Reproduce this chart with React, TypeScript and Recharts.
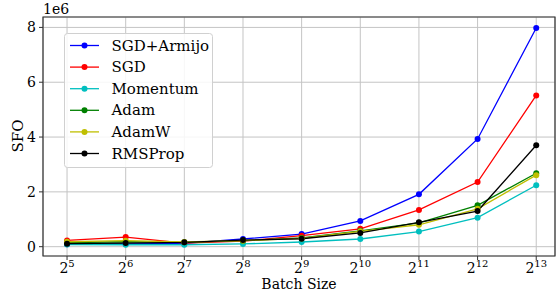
import React from 'react';
import { LineChart, Line, XAxis, YAxis, CartesianGrid, ReferenceArea } from 'recharts';

const batchExponents = [5, 6, 7, 8, 9, 10, 11, 12, 13];
const sgdArmijo = [0.09, 0.10, 0.12, 0.28, 0.46, 0.94, 1.91, 3.93, 7.98];
const sgd = [0.23, 0.35, 0.13, 0.20, 0.40, 0.65, 1.34, 2.36, 5.52];
const momentum = [0.08, 0.07, 0.07, 0.10, 0.17, 0.28, 0.55, 1.06, 2.24];
const adam = [0.15, 0.18, 0.16, 0.22, 0.32, 0.58, 0.87, 1.51, 2.68];
const adamw = [0.18, 0.22, 0.17, 0.22, 0.30, 0.56, 0.80, 1.38, 2.61];
const rmsprop = [0.11, 0.13, 0.16, 0.24, 0.29, 0.50, 0.89, 1.30, 3.70];
const yTicks = [0, 2, 4, 6, 8];

const series = [
  { key: 'SGD+Armijo', values: sgdArmijo, color: '#0000ff' },
  { key: 'SGD', values: sgd, color: '#ff0000' },
  { key: 'Momentum', values: momentum, color: '#00bfbf' },
  { key: 'Adam', values: adam, color: '#008000' },
  { key: 'AdamW', values: adamw, color: '#bfbf00' },
  { key: 'RMSProp', values: rmsprop, color: '#000000' },
];

const data = batchExponents.map((e, i) => {
  const row: Record<string, number> = { exp: e };
  series.forEach((s) => {
    row[s.key] = s.values[i];
  });
  return row;
});

const FONT = "'DejaVu Serif', serif";
const X_DOMAIN: [number, number] = [4.59, 13.32];
const Y_DOMAIN: [number, number] = [-0.34, 8.38];

const XTick = (props: any) => {
  const { x, y, payload } = props;
  return (
    <text x={x} y={y} textAnchor="middle" fontFamily={FONT} fontSize={14} fill="#000">
      <tspan dy={10}>2</tspan>
      <tspan dy={-6} fontSize={10}>{payload.value}</tspan>
    </text>
  );
};

const YTick = (props: any) => {
  const { x, y, payload } = props;
  return (
    <text x={x} y={y} dy={5} textAnchor="end" fontFamily={FONT} fontSize={14} fill="#000">
      {payload.value}
    </text>
  );
};

const LegendBox = () => (
  <svg width={150} height={136} style={{ display: 'block' }}>
    <rect x={0.5} y={0.5} width={148} height={134} rx={3} ry={3} fill="rgba(255,255,255,0.85)" stroke="#d0d0d0" />
    {series.map((s, i) => {
      const cy = 12.5 + i * 21.6;
      return (
        <g key={s.key}>
          <line x1={6} x2={35} y1={cy} y2={cy} stroke={s.color} strokeWidth={1.3} />
          <circle cx={20.5} cy={cy} r={3} fill={s.color} />
          <text x={47.5} y={cy} dy={5} fontFamily={FONT} fontSize={15} fill="#000">
            {s.key}
          </text>
        </g>
      );
    })}
  </svg>
);

export default function App() {
  return (
    <div style={{ position: 'absolute', left: 0, top: 0, width: 556, height: 292, background: '#fff' }}>
      <LineChart width={556} height={292} data={data} margin={{ top: 17, right: 1, left: 0, bottom: 0 }}>
        <CartesianGrid stroke="#c4c4c4" strokeWidth={1} />
        <XAxis
          dataKey="exp"
          type="number"
          domain={X_DOMAIN}
          ticks={batchExponents}
          allowDataOverflow
          height={36}
          tick={<XTick />}
          tickSize={4}
          tickMargin={3}
          stroke="#333"
          tickLine={{ stroke: '#333' }}
          axisLine={false}
          label={{
            content: () => (
              <text x={299} y={289} textAnchor="middle" fontFamily={FONT} fontSize={14} fill="#000">
                Batch Size
              </text>
            ),
          }}
        />
        <YAxis
          type="number"
          domain={Y_DOMAIN}
          ticks={yTicks}
          allowDataOverflow
          width={43}
          tick={<YTick />}
          tickSize={4}
          tickMargin={3}
          stroke="#333"
          tickLine={{ stroke: '#333' }}
          axisLine={false}
          label={{
            content: () => (
              <g>
                <text x={23} y={136} transform="rotate(-90 23 136)" textAnchor="middle" fontFamily={FONT} fontSize={15} fill="#000">
                  SFO
                </text>
                <text x={43} y={14} textAnchor="start" fontFamily={FONT} fontSize={14} fill="#000">
                  1e6
                </text>
              </g>
            ),
          }}
        />
        <ReferenceArea
          x1={X_DOMAIN[0]}
          x2={X_DOMAIN[1]}
          y1={Y_DOMAIN[0]}
          y2={Y_DOMAIN[1]}
          fill="none"
          stroke="#333"
          strokeWidth={1.2}
          ifOverflow="visible"
        />
        {series.map((s) => (
          <Line
            key={s.key}
            dataKey={s.key}
            stroke={s.color}
            strokeWidth={1.3}
            dot={{ r: 3, fill: s.color, stroke: s.color, strokeWidth: 0 }}
            activeDot={false}
            isAnimationActive={false}
            type="linear"
          />
        ))}
      </LineChart>
      <div style={{ position: 'absolute', left: 64, top: 33 }}>
        <LegendBox />
      </div>
    </div>
  );
}
